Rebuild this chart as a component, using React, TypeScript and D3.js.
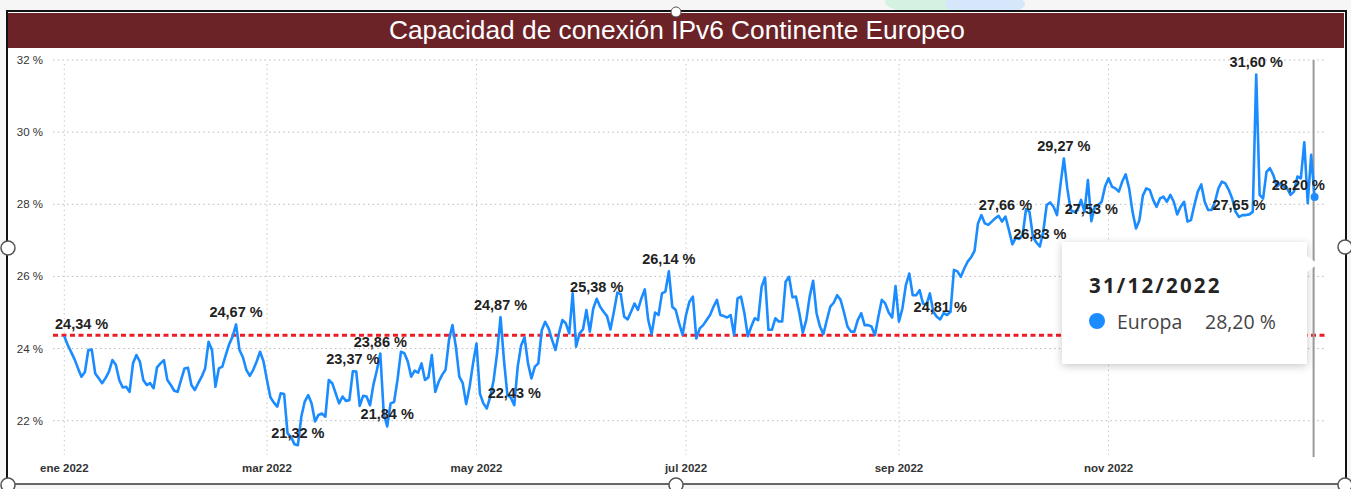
import { useEffect, useRef } from 'react';
import * as d3 from 'd3';

// Capacidad de conexión IPv6 — Europa, valores diarios 2022 (%)
const START = new Date(2022, 0, 1);
const END = new Date(2022, 11, 31);

const valuesQ1 = [
  24.34, 24.10, 23.90, 23.70, 23.45, 23.22, 23.35, 23.96, 23.97, 23.31,
  23.18, 23.04, 23.18, 23.36, 23.68, 23.55, 23.13, 22.92, 22.94, 22.80,
  23.59, 23.82, 23.64, 23.13, 22.99, 23.04, 22.90, 23.48, 23.59, 23.68,
  23.13, 22.99, 22.83, 22.80, 23.13, 23.45, 23.47, 22.99, 22.85, 23.04,
  23.22, 23.45, 24.19, 23.96, 22.94, 23.45, 23.50, 23.82, 24.12, 24.33,
  24.67, 23.96, 23.76, 23.41, 23.24, 23.41, 23.64, 23.91, 23.64, 23.13,
  22.65, 22.50, 22.39, 22.76, 22.74, 21.65, 21.55, 21.35, 21.32, 22.11,
  22.53, 22.71, 22.48, 21.98, 22.16, 22.20, 22.11, 23.13, 23.04, 22.76,
  22.48, 22.67, 22.55, 22.57, 23.37, 23.36, 22.41, 22.69, 22.67, 22.43,
];

const valuesQ2 = [
  23.00, 23.40, 23.86, 22.20, 21.84, 22.48, 22.52, 23.13, 23.91, 23.87,
  23.64, 23.22, 23.39, 23.33, 23.59, 23.13, 23.20, 23.82, 22.80, 23.08,
  23.27, 23.41, 24.24, 24.65, 24.05, 23.22, 23.04, 22.46, 22.94, 23.59,
  24.14, 22.75, 22.48, 22.34, 22.66, 23.13, 23.87, 24.87, 23.68, 22.71,
  22.64, 22.43, 23.50, 24.09, 24.31, 23.59, 23.17, 23.50, 23.59, 24.51,
  24.74, 24.56, 24.24, 23.96, 24.42, 24.79, 24.70, 24.42, 25.53, 24.05,
  24.42, 24.53, 25.07, 24.47, 25.11, 25.38, 25.16, 25.02, 24.90, 24.53,
  25.02, 25.55, 25.51, 24.88, 24.81, 25.02, 25.25, 25.07, 25.39, 25.64,
  24.79, 24.40, 25.00, 24.93, 25.53, 25.58, 26.14, 25.16, 25.07, 24.70,
  24.38,
];

const valuesQ3 = [
  24.93, 25.30, 25.44, 24.28, 24.56, 24.65, 24.79, 24.93, 25.16, 25.35,
  24.93, 24.90, 24.86, 24.93, 24.37, 25.39, 25.44, 24.98, 24.34, 24.61,
  24.84, 24.79, 25.71, 25.97, 24.52, 24.52, 24.84, 24.75, 24.75, 25.85,
  25.99, 25.42, 25.44, 24.98, 24.44, 24.79, 25.44, 25.88, 24.98, 24.61,
  24.40, 24.79, 25.16, 25.27, 25.48, 25.35, 25.00, 24.61, 24.47, 24.47,
  24.79, 24.98, 24.65, 24.65, 24.61, 24.37, 24.88, 25.35, 25.25, 25.00,
  24.86, 25.73, 24.75, 25.11, 25.76, 26.08, 25.48, 25.48, 25.62, 25.25,
  25.21, 25.53, 25.02, 24.88, 24.81, 24.98, 24.93, 25.02, 26.18, 26.14,
  25.99, 26.22, 26.41, 26.53, 26.71, 27.47, 27.70, 27.47, 27.43, 27.52,
  27.61, 27.68,
];

const valuesQ4 = [
  27.52, 27.66, 27.29, 26.89, 27.07, 27.04, 27.15, 27.87, 27.79, 27.10,
  26.94, 26.83, 27.24, 27.98, 28.05, 27.93, 27.70, 28.53, 29.27, 28.44,
  27.84, 27.79, 27.84, 28.12, 27.79, 28.67, 27.53, 27.93, 27.98, 28.07,
  28.49, 28.72, 28.49, 28.44, 28.35, 28.63, 28.83, 28.44, 27.79, 27.33,
  27.56, 28.24, 28.44, 28.40, 28.12, 27.93, 28.16, 28.21, 28.07, 28.26,
  28.07, 27.72, 27.93, 28.07, 27.52, 27.56, 27.98, 28.35, 28.55, 28.07,
  27.84, 27.84, 28.07, 28.44, 28.63, 28.58, 28.40, 28.16, 27.79, 27.65,
  27.70, 27.70, 27.72, 27.79, 31.60, 28.26, 28.16, 28.90, 29.00, 28.81,
  28.49, 28.58, 28.49, 28.44, 28.26, 28.35, 28.77, 28.72, 29.72, 28.03,
  29.37, 28.20,
];

// days (index from 1 Jan) that carry a data label
const labelDays = [0, 50, 68, 84, 92, 94, 127, 131, 155, 176, 255, 274, 284, 291, 299, 342, 347, 364];
const referenceLine = 24.37;
const yTicks = [22, 24, 26, 28, 30, 32];
const seriesName = 'Europa';
const title = 'Capacidad de conexión IPv6 Continente Europeo';

const es = d3.timeFormatLocale({
  dateTime: '%x, %X',
  date: '%d/%m/%Y',
  time: '%H:%M:%S',
  periods: ['AM', 'PM'],
  days: ['domingo', 'lunes', 'martes', 'miércoles', 'jueves', 'viernes', 'sábado'],
  shortDays: ['dom', 'lun', 'mar', 'mié', 'jue', 'vie', 'sáb'],
  months: ['enero', 'febrero', 'marzo', 'abril', 'mayo', 'junio', 'julio', 'agosto', 'septiembre', 'octubre', 'noviembre', 'diciembre'],
  shortMonths: ['ene', 'feb', 'mar', 'abr', 'may', 'jun', 'jul', 'ago', 'sep', 'oct', 'nov', 'dic'],
});

const pct = (v: number) => v.toFixed(2).replace('.', ',') + ' %';

export default function App() {
  const svgRef = useRef<SVGSVGElement | null>(null);

  useEffect(() => {
    if (!svgRef.current) return;
    const W = 1351;
    const H = 489;
    const values = [...valuesQ1, ...valuesQ2, ...valuesQ3, ...valuesQ4];
    const dates = d3.timeDay.range(START, d3.timeDay.offset(END, 1));
    const data = dates.map((d, i) => ({ date: d, value: values[i] }));

    const svg = d3.select(svgRef.current);
    svg.selectAll('*').remove();
    svg.attr('width', W).attr('height', H);

    const font = "'Liberation Sans', Arial, sans-serif";
    const tipFont = "'Open Sans', 'DejaVu Sans', sans-serif";

    // page background and decorations behind the visual
    svg.append('rect').attr('width', W).attr('height', H).attr('fill', '#f6f6f6');
    svg.append('ellipse').attr('cx', 930).attr('cy', 2).attr('rx', 45).attr('ry', 12).attr('fill', '#d4f2e2');
    svg.append('ellipse').attr('cx', 985).attr('cy', 4).attr('rx', 40).attr('ry', 12).attr('fill', '#d6e6fb');

    const defs = svg.append('defs');
    const f = defs.append('filter').attr('id', 'shadow').attr('x', '-20%').attr('y', '-20%').attr('width', '140%').attr('height', '150%');
    f.append('feDropShadow').attr('dx', 0).attr('dy', 2).attr('stdDeviation', 4).attr('flood-color', '#000').attr('flood-opacity', 0.22);

    // visual container
    svg.append('rect').attr('x', 7).attr('y', 11).attr('width', 1339).attr('height', 473)
      .attr('fill', '#fff').attr('stroke', '#111').attr('stroke-width', 2);
    svg.append('line').attr('x1', 8).attr('x2', 1344).attr('y1', 484).attr('y2', 484)
      .attr('stroke', '#666').attr('stroke-width', 2);

    // title bar
    svg.append('rect').attr('x', 8).attr('y', 13).attr('width', 1336).attr('height', 35).attr('fill', '#6b2328');
    svg.append('text').attr('x', 677).attr('y', 38.5).attr('text-anchor', 'middle')
      .attr('fill', '#fff').attr('font-family', font).attr('font-size', 26.3).text(title);

    const x = d3.scaleTime().domain([START, END]).range([64.3, 1314.6]);
    const y = d3.scaleLinear().domain([22, 32]).range([420.7, 60]);
    const left = 53;
    const right = 1325;

    // grid
    svg.append('g').selectAll('line').data(yTicks).join('line')
      .attr('x1', left).attr('x2', right).attr('y1', d => y(d)).attr('y2', d => y(d))
      .attr('stroke', '#b8b8b8').attr('stroke-width', 1).attr('stroke-dasharray', '1.5 3.2');
    const monthTicks = d3.timeMonth.every(2)!.range(START, d3.timeDay.offset(END, 1));
    svg.append('g').selectAll('line').data(monthTicks).join('line')
      .attr('x1', d => x(d)).attr('x2', d => x(d)).attr('y1', 64).attr('y2', 455)
      .attr('stroke', '#c8c8c8').attr('stroke-width', 1).attr('stroke-dasharray', '1.5 3.2');

    // axis labels
    svg.append('g').selectAll('text').data(yTicks).join('text')
      .attr('x', 43).attr('y', d => y(d) + 4).attr('text-anchor', 'end')
      .attr('font-family', font).attr('font-size', 11.5).attr('fill', '#333')
      .text(d => `${d} %`);
    const fmtMonth = es.format('%b %Y');
    svg.append('g').selectAll('text').data(monthTicks).join('text')
      .attr('x', d => x(d)).attr('y', 472).attr('text-anchor', 'middle')
      .attr('font-family', font).attr('font-size', 11.5).attr('font-weight', 'bold').attr('fill', '#333')
      .text(d => fmtMonth(d));

    // reference line
    svg.append('line').attr('x1', left).attr('x2', right)
      .attr('y1', y(referenceLine)).attr('y2', y(referenceLine))
      .attr('stroke', '#ee1c25').attr('stroke-width', 3).attr('stroke-dasharray', '5 3.5');

    // hover cursor line
    const last = data[data.length - 1];
    svg.append('line').attr('x1', x(last.date) - 1).attr('x2', x(last.date) - 1).attr('y1', 60).attr('y2', 457)
      .attr('stroke', '#9a9a9a').attr('stroke-width', 2);

    // series
    const line = d3.line<{ date: Date; value: number }>().x(d => x(d.date)).y(d => y(d.value));
    svg.append('path').datum(data).attr('d', line).attr('fill', 'none')
      .attr('stroke', '#1a8cff').attr('stroke-width', 2.6).attr('stroke-linejoin', 'round');
    svg.append('circle').attr('cx', x(last.date)).attr('cy', y(last.value)).attr('r', 4).attr('fill', '#1a8cff');

    // data labels
    const labels = svg.append('g').attr('font-family', font).attr('font-size', 14.5)
      .attr('font-weight', 'bold').attr('fill', '#222');
    labelDays.forEach(i => {
      const d = data[i];
      const t = labels.append('text').attr('x', x(d.date)).attr('y', y(d.value) - 7)
        .attr('text-anchor', 'middle').text(pct(d.value));
      const w = (t.node() as SVGTextElement).getComputedTextLength();
      let cx = x(d.date);
      if (cx - w / 2 < left + 2) cx = left + 2 + w / 2;
      if (cx + w / 2 > right) cx = right - w / 2;
      t.attr('x', cx);
    });

    // tooltip
    const tip = svg.append('g').attr('transform', 'translate(1062,242)');
    tip.append('rect').attr('width', 245).attr('height', 122).attr('fill', '#fff').attr('filter', 'url(#shadow)');
    tip.append('path').attr('d', 'M245,14 L256,22 L245,30 Z').attr('fill', '#fff');
    tip.append('text').attr('x', 27).attr('y', 51).attr('font-family', tipFont)
      .attr('font-size', 20.5).attr('font-weight', 'bold').attr('letter-spacing', 2.2).attr('fill', '#252423')
      .text(es.format('%d/%m/%Y')(last.date));
    tip.append('circle').attr('cx', 35).attr('cy', 79).attr('r', 8).attr('fill', '#1a8cff');
    tip.append('text').attr('x', 55).attr('y', 87).attr('font-family', tipFont)
      .attr('font-size', 19.5).attr('fill', '#444').text(seriesName);
    tip.append('text').attr('x', 143).attr('y', 87).attr('font-family', tipFont)
      .attr('font-size', 19.5).attr('fill', '#444').text(pct(last.value));

    // resize handles of the selected visual
    const handles = [[8, 248], [1345, 247], [676, 485], [8, 485], [1345, 485]];
    svg.append('g').selectAll('circle').data(handles).join('circle')
      .attr('cx', d => d[0]).attr('cy', d => d[1]).attr('r', 7)
      .attr('fill', '#fff').attr('stroke', '#555').attr('stroke-width', 1.5);
    svg.append('circle').attr('cx', 676).attr('cy', 12).attr('r', 5).attr('fill', '#fff').attr('stroke', '#555');
  }, []);

  return <svg ref={svgRef} style={{ position: 'absolute', left: 0, top: 0, display: 'block' }} />;
}
